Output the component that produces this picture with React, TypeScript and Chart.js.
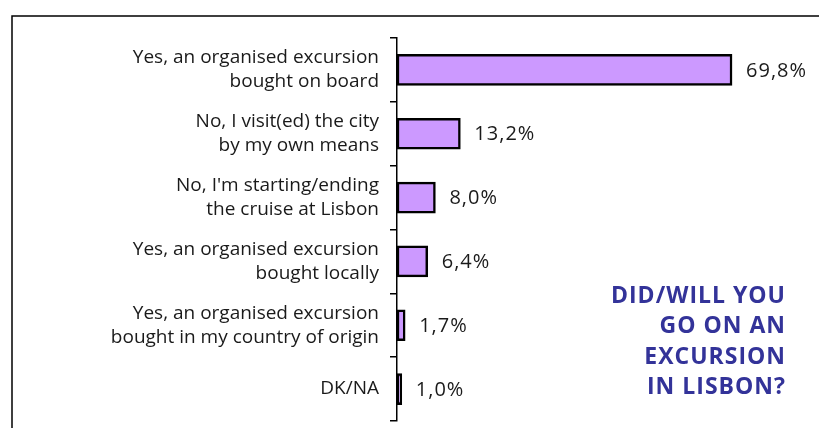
import React, { useEffect, useRef } from "react";
import { Chart, registerables } from "chart.js";

Chart.register(...registerables);

const categories: string[][] = [
  ["Yes, an organised excursion", "bought on board"],
  ["No, I visit(ed) the city", "by my own means"],
  ["No, I'm starting/ending", "the cruise at Lisbon"],
  ["Yes, an organised excursion", "bought locally"],
  ["Yes, an organised excursion", "bought in my country of origin"],
  ["DK/NA"],
];
const values: number[] = [69.8, 13.2, 8.0, 6.4, 1.7, 1.0];
const valueLabels: string[] = ["69,8%", "13,2%", "8,0%", "6,4%", "1,7%", "1,0%"];
const titleLines: string[] = ["DID/WILL YOU", "GO ON AN", "EXCURSION", "IN LISBON?"];

const FONT = "'Open Sans', sans-serif";

export default function App() {
  const ref = useRef<HTMLCanvasElement | null>(null);
  useEffect(() => {
    document.body.style.margin = "0";
    const canvas = ref.current!;
    const framePlugin = {
      id: "frame",
      beforeDraw(chart: any) {
        const ctx = chart.ctx;
        ctx.save();
        ctx.fillStyle = "#ffffff";
        ctx.fillRect(0, 0, chart.width, chart.height);
        ctx.strokeStyle = "#000";
        ctx.lineWidth = 1.5;
        ctx.beginPath();
        ctx.moveTo(12, chart.height + 5);
        ctx.lineTo(12, 16);
        ctx.lineTo(chart.width + 5, 16);
        ctx.stroke();
        ctx.restore();
      },
      afterDraw(chart: any) {
        const ctx = chart.ctx;
        ctx.save();
        ctx.fillStyle = "#333399";
        ctx.font = `bold 23px ${FONT}`;
        (ctx as any).letterSpacing = "1px";
        ctx.textAlign = "right";
        ctx.textBaseline = "middle";
        titleLines.forEach((t, i) => ctx.fillText(t, 786, 296 + i * 30.5));
        ctx.restore();
      },
      afterDatasetsDraw(chart: any) {
        const ctx = chart.ctx;
        const meta = chart.getDatasetMeta(0);
        ctx.save();
        ctx.fillStyle = "#1a1a1a";
        ctx.font = `20px ${FONT}`;
        (ctx as any).letterSpacing = "1px";
        ctx.textAlign = "left";
        ctx.textBaseline = "middle";
        meta.data.forEach((bar: any, i: number) => {
          ctx.fillText(valueLabels[i], bar.x + 14, bar.y + 1);
        });
        ctx.restore();
      },
    };
    const chart = new Chart(canvas, {
      type: "bar",
      data: {
        labels: categories,
        datasets: [
          {
            data: values,
            backgroundColor: "#cc99ff",
            borderColor: "#000000",
            borderWidth: 2.5,
            borderSkipped: false,
            barThickness: 31,
          },
        ],
      },
      options: {
        indexAxis: "y",
        responsive: false,
        animation: false,
        layout: { padding: { top: 38, bottom: 7, right: 38, left: 0 } },
        plugins: { legend: { display: false }, tooltip: { enabled: false } },
        scales: {
          x: { display: false, min: 0, max: 80 },
          y: {
            afterFit(scale: any) {
              scale.width = 397;
              scale.paddingTop = 0;
              scale.paddingBottom = 0;
            },
            grid: {
              offset: true,
              drawOnChartArea: false,
              tickLength: 7,
              color: "#000",
              lineWidth: 1.5,
            },
            border: { display: true, color: "#000", width: 1.5 },
            ticks: {
              padding: 11,
              color: "#1a1a1a",
              font: { family: FONT, size: 19, lineHeight: 1.26 },
            },
          },
        },
      },
      plugins: [framePlugin],
    });
    return () => chart.destroy();
  }, []);
  return <canvas ref={ref} width={819} height={428} style={{ display: "block" }} />;
}
